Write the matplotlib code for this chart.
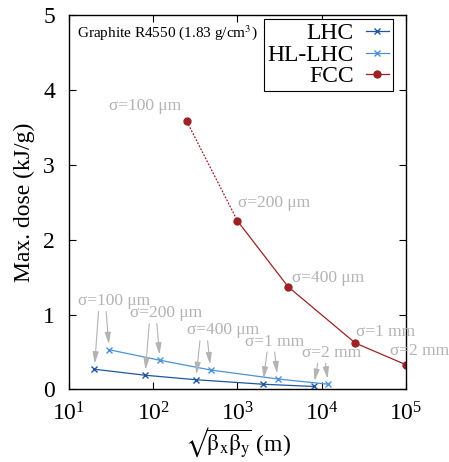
import matplotlib
matplotlib.use("Agg")
import matplotlib.pyplot as plt
import numpy as np

plt.rcParams['font.family'] = 'serif'
plt.rcParams['font.serif'] = ['Liberation Serif', 'DejaVu Serif']
plt.rcParams['mathtext.fontset'] = 'stix'

# sqrt(beta_x beta_y) in m, max dose in kJ/g
lhc_beta = [20, 80, 320, 2000, 8000]
lhc_dose = [0.27, 0.19, 0.13, 0.07, 0.04]
hl_beta = [30, 120, 480, 3000, 12000]
hl_dose = [0.53, 0.39, 0.26, 0.14, 0.07]
fcc_beta = [250, 1000, 4000, 25000, 100000]
fcc_dose = [3.58, 2.25, 1.37, 0.62, 0.33]

sigma_labels = ['σ=100 μm', 'σ=200 μm', 'σ=400 μm', 'σ=1 mm', 'σ=2 mm']
# label centres for the LHC/HL-LHC pairs and for the FCC points
pair_label_pos = [(34, 1.18), (141, 1.02), (680, 0.79), (2750, 0.64), (13000, 0.49)]
fcc_label_pos = [(80, 3.79), (2700, 2.49), (11800, 1.485), (56600, 0.77), (143500, 0.52)]
x_ticks = [10, 100, 1000, 10000, 100000]

c_lhc = '#1d57a0'
c_hl = '#4b92d8'
c_fcc = '#9b2226'
c_note = '#b3b3b3'

fig = plt.figure(figsize=(4.49, 4.62), dpi=100)
ax = fig.add_axes([0.1537, 0.157, 0.7505, 0.8105])

ax.plot(lhc_beta, lhc_dose, color=c_lhc, lw=0.9, marker='x', ms=5, mew=1.0, label='LHC')
ax.plot(hl_beta, hl_dose, color=c_hl, lw=0.9, marker='x', ms=5, mew=1.0, label='HL-LHC')
ax.plot(fcc_beta[:2], fcc_dose[:2], color=c_fcc, lw=0.9, ls=(0, (1.5, 1.2)))
ax.plot(fcc_beta[1:], fcc_dose[1:], color=c_fcc, lw=0.9)
ax.plot(fcc_beta, fcc_dose, color=c_fcc, lw=0, marker='o', ms=5)
ax.plot([], [], color=c_fcc, lw=0.9, marker='o', ms=5, label='FCC')

arrow = dict(arrowstyle='-|>,head_length=0.7,head_width=0.18', color=c_note, lw=0.8,
             mutation_scale=10, shrinkA=0, shrinkB=4)
for (tx, ty), lab, bl, dl, bh, dh in zip(pair_label_pos, sigma_labels,
                                         lhc_beta, lhc_dose, hl_beta, hl_dose):
    ax.text(tx, ty, lab, color=c_note, fontsize=12.5, ha='center', va='center')
    for bx, dy, f in ((bl, dl, 1.12), (bh, dh, 0.92)):
        ax.annotate('', xy=(bx, dy), xytext=(bx * f, ty - 0.14), arrowprops=arrow)

for (tx, ty), lab in zip(fcc_label_pos, sigma_labels):
    ax.text(tx, ty, lab, color=c_note, fontsize=12.5, ha='center', va='center')

ax.text(0.023, 0.954, r'Graphite R4550 (1.83 g/cm$^3$)', transform=ax.transAxes,
        fontsize=11, ha='left', va='center')

ax.set_xscale('log')
ax.set_xlim(10, 1e5)
ax.set_xticks(x_ticks)
ax.set_ylim(0, 5)
ax.set_yticks(range(6))
ax.tick_params(which='both', direction='in', top=True, right=True, labelsize=17)
ax.tick_params(which='major', length=5)
ax.tick_params(which='minor', length=3)
ax.tick_params(axis='x', pad=9)
ax.tick_params(axis='y', pad=10)
for s in ax.spines.values():
    s.set_linewidth(1.0)

ax.set_xlabel(r'$\mathrm{√}\overline{\mathrm{\beta_x\beta_y}}$ (m)', fontsize=17, labelpad=0)
ax.set_ylabel('Max. dose (kJ/g)', fontsize=17, labelpad=6)

leg = ax.legend(loc='upper right', bbox_to_anchor=(0.961, 0.9885), fontsize=17,
                markerfirst=False, handlelength=1.0, handletextpad=0.5, borderpad=0.15,
                labelspacing=0.0, fancybox=False, framealpha=1, edgecolor='black',
                borderaxespad=0)
leg.get_frame().set_linewidth(0.8)

fig.savefig('out.png', dpi=100)
